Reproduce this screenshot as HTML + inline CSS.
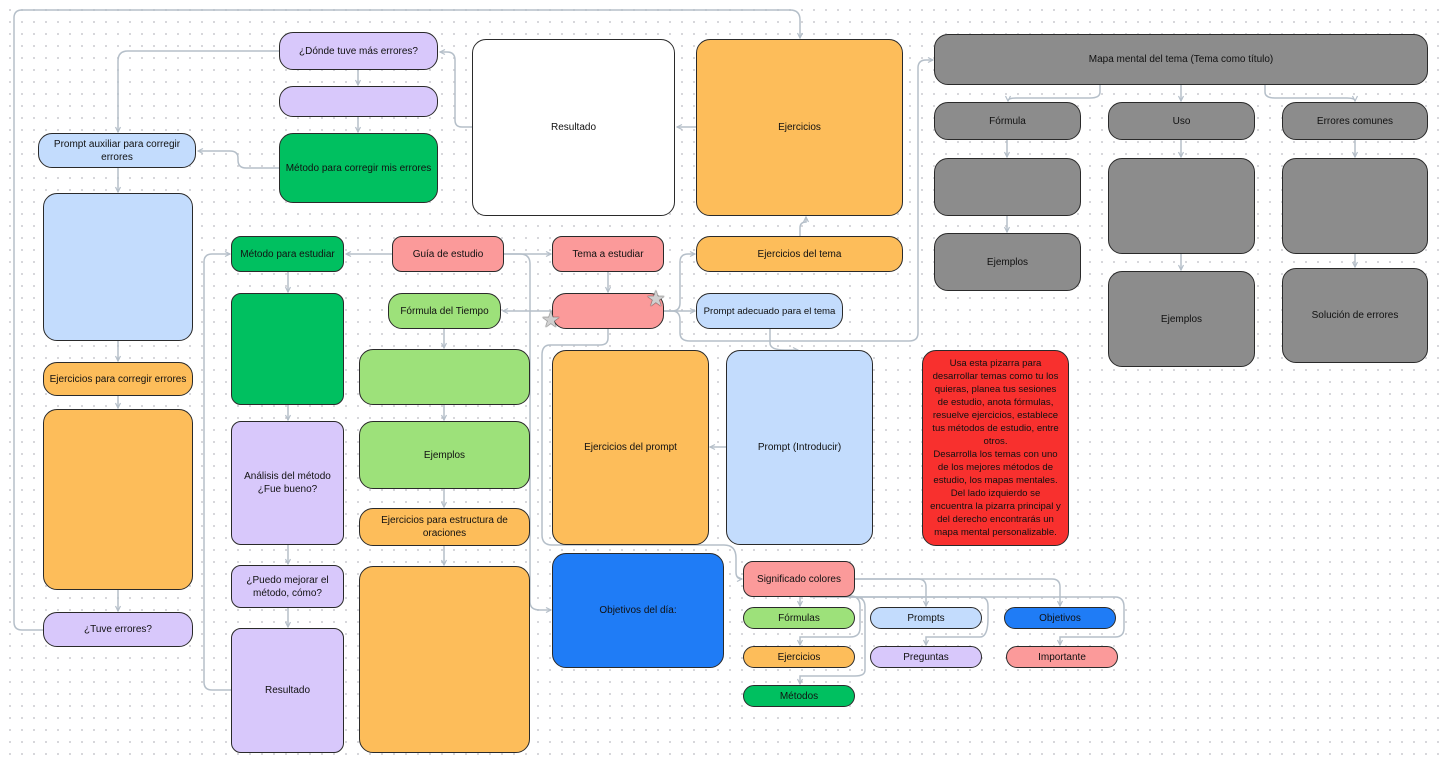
<!DOCTYPE html>
<html><head><meta charset="utf-8">
<style>
body{margin:0;width:1445px;height:764px;overflow:hidden;background:#fff;
background-image:radial-gradient(circle,#d4d4d8 1px,transparent 1.2px);background-size:12px 12px;background-position:4px 4px;
font-family:"Liberation Sans",sans-serif;font-size:10px;color:#111;position:relative}
.n{position:absolute;box-sizing:border-box;border:1.5px solid #2a2a2a;border-radius:14px;display:flex;align-items:center;justify-content:center;text-align:center;line-height:13px;padding:0 4px}
.p{background:#d8c8fb}.g{background:#00c060}.lb{background:#c3dcfd}.o{background:#fdbd5a}.w{background:#fff}
.gr{background:#8c8c8c}.pk{background:#fb9a9a}.lg{background:#9de17a}.b{background:#1f7cf6}.r{background:#f8302e}
.s{border-radius:10px}
svg{position:absolute;left:0;top:0}
.star{position:absolute;font-size:22px;line-height:22px;color:#d0d0d0;text-shadow:0 0 1px #333,0 0 1px #333}
</style></head><body>
<svg width="1445" height="764" fill="none" stroke="#b5bfc9" stroke-width="1.5">
<defs><marker id="a" markerUnits="userSpaceOnUse" markerWidth="7" markerHeight="7" refX="6" refY="3.5" orient="auto"><path d="M1,1L6,3.5L1,6" stroke="#b5bfc9" stroke-width="1.2" fill="none"/></marker></defs>
<g marker-end="url(#a)">
<path d="M43,630H22Q14,630 14,622V18Q14,10 22,10H790Q800,10 800,20V38"/>
<path d="M279,51H128Q118,51 118,61V132"/>
<path d="M358,70V85"/><path d="M358,117V132"/>
<path d="M279,168H246Q238,168 238,160V158Q238,151 230,151H198"/>
<path d="M472,127H462Q455,127 455,120V60Q455,52 447,52H440"/>
<path d="M696,127H677"/>
<path d="M118,168V192"/><path d="M118,341V361"/><path d="M118,396V408"/><path d="M118,590V611"/>
<path d="M392,254H346"/><path d="M504,254H551"/>
<path d="M608,272V292"/>
<path d="M664,311H672Q680,311 680,303V262Q680,254 688,254H695"/>
<path d="M664,311H695"/>
<path d="M552,311H503"/>
<path d="M800,236V228Q800,222 806,222V217"/>
<path d="M770,329V343Q770,350 785,350H798"/>
<path d="M664,311H672Q680,311 680,320V333Q680,341 690,341H909Q918,341 918,333V68Q918,60 926,60H933"/>
<path d="M288,272V292"/><path d="M288,405V420"/><path d="M288,545V564"/><path d="M288,608V627"/>
<path d="M231,690H212Q204,690 204,682V262Q204,254 212,254H230"/>
<path d="M444,329V348"/><path d="M444,405V420"/><path d="M444,489V507"/><path d="M444,546V565"/>
<path d="M504,254H520Q530,254 530,264V602Q530,610 540,610H551"/>
<path d="M608,329V338Q608,345 600,345H550Q542,345 542,355V535Q542,545 552,545H724Q736,545 736,558V572Q736,579 742,579"/>
<path d="M726,447H710"/>
<path d="M1100,85V92Q1100,98 1090,98H1016Q1008,98 1008,101"/>
<path d="M1181,85V101"/>
<path d="M1265,85V92Q1265,98 1275,98H1347Q1355,98 1355,101"/>
<path d="M1007,140V157"/><path d="M1007,216V232"/>
<path d="M1181,140V157"/><path d="M1181,254V270"/>
<path d="M1355,140V157"/><path d="M1355,254V267"/>
<path d="M800,597V606"/>
<path d="M855,579H918Q926,579 926,587V606"/>
<path d="M855,579H1052Q1060,579 1060,587V606"/>
<path d="M800,597Q800,596 810,596H850Q860,596 860,606V628Q860,637 850,637H800V645"/>
<path d="M810,597H980Q988,597 988,606V618Q988,637 980,637H926V645"/>
<path d="M830,597H855Q865,597 865,607V670Q865,676 855,676H800V684"/>
<path d="M840,597H1115Q1124,597 1124,607V628Q1124,637 1115,637H1060V645"/>
</g></svg>

<div class="n p" style="left:279px;top:32px;width:159px;height:38px">¿Dónde tuve más errores?</div>
<div class="n p" style="left:279px;top:86px;width:159px;height:31px"></div>
<div class="n g" style="left:279px;top:133px;width:159px;height:70px">Método para corregir mis errores</div>
<div class="n lb" style="left:38px;top:133px;width:158px;height:35px">Prompt auxiliar para corregir errores</div>
<div class="n lb" style="left:43px;top:193px;width:150px;height:148px"></div>
<div class="n o" style="left:43px;top:362px;width:150px;height:34px">Ejercicios para corregir errores</div>
<div class="n o" style="left:43px;top:409px;width:150px;height:181px"></div>
<div class="n p" style="left:43px;top:612px;width:150px;height:35px">¿Tuve errores?</div>
<div class="n w" style="left:472px;top:39px;width:203px;height:177px">Resultado</div>
<div class="n o" style="left:696px;top:39px;width:207px;height:177px">Ejercicios</div>
<div class="n gr" style="left:934px;top:34px;width:494px;height:51px">Mapa mental del tema (Tema como título)</div>
<div class="n gr" style="left:934px;top:102px;width:147px;height:38px">Fórmula</div>
<div class="n gr" style="left:1108px;top:102px;width:147px;height:38px">Uso</div>
<div class="n gr" style="left:1282px;top:102px;width:146px;height:38px">Errores comunes</div>
<div class="n gr" style="left:934px;top:158px;width:147px;height:58px"></div>
<div class="n gr" style="left:1108px;top:158px;width:147px;height:96px"></div>
<div class="n gr" style="left:1282px;top:158px;width:146px;height:96px"></div>
<div class="n gr" style="left:934px;top:233px;width:147px;height:58px">Ejemplos</div>
<div class="n gr" style="left:1108px;top:271px;width:147px;height:96px">Ejemplos</div>
<div class="n gr" style="left:1282px;top:268px;width:146px;height:95px">Solución de errores</div>
<div class="n g s" style="left:231px;top:236px;width:113px;height:36px">Método para estudiar</div>
<div class="n pk s" style="left:392px;top:236px;width:112px;height:36px">Guía de estudio</div>
<div class="n pk s" style="left:552px;top:236px;width:112px;height:36px">Tema a estudiar</div>
<div class="n o" style="left:696px;top:236px;width:207px;height:36px">Ejercicios del tema</div>
<div class="n pk" style="left:552px;top:293px;width:112px;height:36px"></div>
<div class="n lb" style="left:696px;top:293px;width:147px;height:36px;white-space:nowrap;padding:0;font-size:9.6px">Prompt adecuado para el tema</div>
<div class="n lg" style="left:388px;top:293px;width:113px;height:36px">Fórmula del Tiempo</div>
<div class="n g s" style="left:231px;top:293px;width:113px;height:112px"></div>
<div class="n lg" style="left:359px;top:349px;width:171px;height:56px"></div>
<div class="n lg" style="left:359px;top:421px;width:171px;height:68px">Ejemplos</div>
<div class="n o" style="left:359px;top:508px;width:171px;height:38px">Ejercicios para estructura de oraciones</div>
<div class="n o" style="left:359px;top:566px;width:171px;height:187px"></div>
<div class="n p s" style="left:231px;top:421px;width:113px;height:124px">Análisis del método ¿Fue bueno?</div>
<div class="n p s" style="left:231px;top:565px;width:113px;height:43px">¿Puedo mejorar el método, cómo?</div>
<div class="n p s" style="left:231px;top:628px;width:113px;height:125px">Resultado</div>
<div class="n o" style="left:552px;top:350px;width:157px;height:195px">Ejercicios del prompt</div>
<div class="n lb" style="left:726px;top:350px;width:147px;height:195px">Prompt (Introducir)</div>
<div class="n b" style="left:552px;top:553px;width:172px;height:115px">Objetivos del día:</div>
<div class="n r" style="left:922px;top:350px;width:147px;height:196px;padding:0 6px;font-size:9.6px">Usa esta pizarra para desarrollar temas como tu los quieras, planea tus sesiones de estudio, anota fórmulas, resuelve ejercicios, establece tus métodos de estudio, entre otros.<br>Desarrolla los temas con uno de los mejores métodos de estudio, los mapas mentales. Del lado izquierdo se encuentra la pizarra principal y del derecho encontrarás un mapa mental personalizable.</div>
<div class="n pk s" style="left:743px;top:561px;width:112px;height:36px">Significado colores</div>
<div class="n lg" style="left:743px;top:607px;width:112px;height:22px">Fórmulas</div>
<div class="n lb" style="left:870px;top:607px;width:112px;height:22px">Prompts</div>
<div class="n b" style="left:1004px;top:607px;width:112px;height:22px">Objetivos</div>
<div class="n o" style="left:743px;top:646px;width:112px;height:22px">Ejercicios</div>
<div class="n p" style="left:870px;top:646px;width:112px;height:22px">Preguntas</div>
<div class="n pk" style="left:1006px;top:646px;width:112px;height:22px">Importante</div>
<div class="n g" style="left:743px;top:685px;width:112px;height:22px">Métodos</div>
<div class="star" style="left:646px;top:288px">★</div>
<div class="star" style="left:541px;top:309px">★</div>
</body></html>
